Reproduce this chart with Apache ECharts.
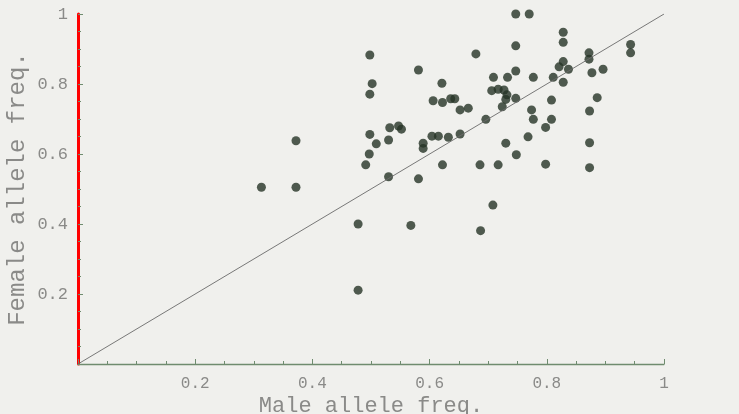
<!DOCTYPE html>
<html>
<head>
<meta charset="utf-8">
<script src="https://cdn.jsdelivr.net/npm/echarts@6/dist/echarts.min.js"></script>
<style>
  html, body { margin: 0; padding: 0; background: #f0f0ed; }
  #chart { width: 739px; height: 414px; }
</style>
</head>
<body>
<div id="chart"></div>
<script>
// male / female allele frequency per locus
const dots = [
  [0.313, 0.505], [0.372, 0.638], [0.372, 0.505], [0.478, 0.400], [0.478, 0.211],
  [0.491, 0.569], [0.497, 0.600], [0.498, 0.656], [0.509, 0.629], [0.498, 0.771],
  [0.502, 0.801], [0.498, 0.883], [0.530, 0.640], [0.532, 0.675], [0.547, 0.680],
  [0.552, 0.671], [0.530, 0.535], [0.581, 0.529], [0.568, 0.396], [0.581, 0.840],
  [0.589, 0.631], [0.589, 0.616], [0.604, 0.651], [0.615, 0.651], [0.632, 0.648],
  [0.652, 0.657], [0.606, 0.752], [0.622, 0.747], [0.636, 0.758], [0.643, 0.758],
  [0.621, 0.802], [0.622, 0.569], [0.652, 0.726], [0.666, 0.731], [0.679, 0.886],
  [0.686, 0.569], [0.687, 0.381], [0.696, 0.699], [0.706, 0.781], [0.717, 0.785],
  [0.727, 0.783], [0.732, 0.769], [0.730, 0.756], [0.724, 0.735], [0.709, 0.819],
  [0.733, 0.819], [0.717, 0.569], [0.708, 0.454], [0.730, 0.631], [0.747, 1.000],
  [0.770, 1.000], [0.747, 0.909], [0.747, 0.837], [0.747, 0.759], [0.748, 0.598],
  [0.768, 0.649], [0.774, 0.726], [0.777, 0.819], [0.777, 0.699], [0.798, 0.676],
  [0.798, 0.571], [0.808, 0.754], [0.808, 0.699], [0.811, 0.819], [0.828, 0.948],
  [0.828, 0.919], [0.828, 0.864], [0.821, 0.849], [0.837, 0.842], [0.828, 0.805],
  [0.872, 0.889], [0.872, 0.871], [0.873, 0.723], [0.873, 0.632], [0.873, 0.561],
  [0.877, 0.832], [0.886, 0.761], [0.896, 0.842], [0.943, 0.913], [0.943, 0.889]
]

// fitted regression and the 1:1 reference
const fitLine = [[0, 0.303], [1, 0.889]]
const oneToOne = [[0, 0], [1, 1]]

// confidence band of the fit
const bandUpper = [
  [0.314, 0.567], [0.362, 0.583], [0.402, 0.598], [0.441, 0.615], [0.481, 0.631],
  [0.522, 0.645], [0.561, 0.664], [0.597, 0.682], [0.635, 0.702], [0.673, 0.725],
  [0.708, 0.745], [0.746, 0.769], [0.783, 0.793], [0.853, 0.849], [0.892, 0.877],
  [0.943, 0.914]
]
const bandLower = [
  [0.316, 0.411], [0.345, 0.432], [0.382, 0.460], [0.416, 0.489], [0.452, 0.517],
  [0.490, 0.545], [0.527, 0.577], [0.561, 0.599], [0.607, 0.627], [0.673, 0.671],
  [0.708, 0.692], [0.767, 0.720], [0.804, 0.737], [0.843, 0.756], [0.886, 0.776],
  [0.920, 0.790], [0.943, 0.800]
]

const axisColor = '#6f8c6f'
const textColor = '#8a8a88'
const mono = 'Liberation Mono'

const chart = echarts.init(document.getElementById('chart'))

function axisBase(name) {
  return {
    type: 'value',
    min: 0,
    max: 1,
    interval: 0.2,
    name: name,
    nameLocation: 'middle',
    nameMoveOverlap: false,
    nameTextStyle: {color: textColor, fontFamily: mono, fontSize: 22},
    axisLine: {show: true, onZero: false, lineStyle: {color: axisColor, width: 1.3}},
    axisTick: {show: true, inside: true, length: 5, lineStyle: {color: axisColor}},
    minorTick: {show: true, splitNumber: 4, length: 3, lineStyle: {color: axisColor}},
    splitLine: {show: false},
    axisLabel: {color: textColor, fontFamily: mono, showMinLabel: false}
  }
}

const xAxis = axisBase('Male allele freq.')
xAxis.nameGap = 31
xAxis.axisLabel.fontSize = 16
xAxis.axisLabel.margin = 12

const yAxis = axisBase('Female allele freq.')
yAxis.nameGap = 48
yAxis.nameTextStyle.fontSize = 24
yAxis.axisLabel.fontSize = 17
yAxis.axisLabel.margin = 10
yAxis.axisLine.lineStyle = {color: 'red', width: 3}

chart.setOption({
  animation: false,
  grid: {left: 78, right: 75, top: 14, bottom: 50, outerBoundsMode: 'none'},
  xAxis: xAxis,
  yAxis: yAxis,
  series: [
    {
      type: 'line', data: oneToOne, symbol: 'none', silent: true,
      lineStyle: {color: '#6a6a6a', width: 0.9}
    },
    {
      type: 'scatter', data: dots, symbolSize: 9, clip: false,
      itemStyle: {color: '#263326'}
    }
  ]
})
</script>
</body>
</html>
